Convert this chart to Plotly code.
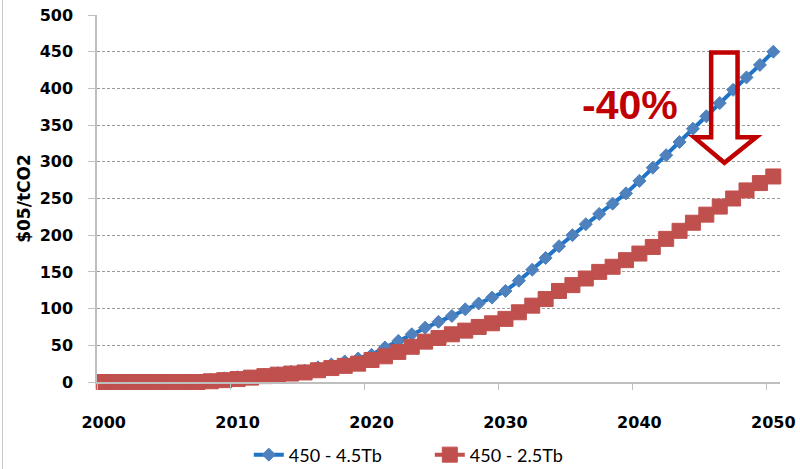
import plotly.graph_objects as go

# Carbon price paths, $05 per tonne CO2
years = list(range(2000, 2051))
price_450_45tb = [
    0, 0, 0, 0, 0.5, 1, 1, 1.5, 3, 5,
    6.5, 7.5, 10, 12, 14, 15.5, 20, 24, 28, 32,
    37, 47, 56, 65, 74, 82, 90, 99, 107, 115,
    124, 138, 153, 169, 185, 200, 215, 229, 243, 257,
    274, 292, 309, 327, 345, 362, 380, 398, 415, 432,
    450,
]
price_450_25tb = [
    0, 0, 0, 0, 0, 0, 0, 0, 1, 2.5,
    4, 6, 8, 10, 11.5, 13, 16, 19, 22, 25,
    30, 35, 41, 48, 55, 60, 65, 70, 75, 80,
    86, 95, 104, 113, 124, 132, 141, 150, 157, 166,
    175, 184, 195, 206, 217, 228, 239, 250, 261, 271,
    280,
]
series_names = ["450 - 4.5Tb", "450 - 2.5Tb"]
y_ticks = list(range(0, 501, 50))
x_ticks = list(range(2000, 2051, 10))

TICK_FONT = dict(family="DejaVu Sans", size=16, color="#000000", weight="bold")
AXIS_GREY = "#BFBFBF"

fig = go.Figure()
fig.add_trace(go.Scatter(
    x=years, y=price_450_45tb, name=series_names[0], mode="lines+markers",
    line=dict(color="#1F74C8", width=4),
    marker=dict(symbol="diamond", size=10, color="#4F81BD",
                line=dict(color="#4F81BD", width=1)),
    cliponaxis=False,
))
fig.add_trace(go.Scatter(
    x=years, y=price_450_25tb, name=series_names[1], mode="lines+markers",
    line=dict(color="#C0504D", width=4),
    marker=dict(symbol="square", size=15, color="#C0504D",
                line=dict(color="#C0504D", width=1)),
    cliponaxis=False,
))

# hollow down arrow marking the reduction
arrow = [
    (2045.36, 449.0), (2047.33, 449.0), (2047.33, 333.3), (2048.72, 333.3),
    (2046.35, 298.6), (2044.09, 333.3), (2045.36, 333.3),
]
path = "M " + " L ".join(f"{x},{y}" for x, y in arrow) + " Z"
fig.add_shape(type="path", path=path, xref="x", yref="y",
              line=dict(color="#C00000", width=4.5), fillcolor="rgba(0,0,0,0)")

fig.add_annotation(x=2039.3, y=377.5, xref="x", yref="y", text="-40%",
                   showarrow=False,
                   font=dict(family="Liberation Sans", size=41, color="#C00000",
                             weight="bold"))

# thin frame line on the left edge of the chart area
fig.add_shape(type="line", xref="paper", yref="paper",
              x0=-0.1384, x1=-0.1384, y0=-0.24, y1=1.05,
              line=dict(color="#C8C8C8", width=1))

fig.update_layout(
    width=800, height=469,
    margin=dict(l=97, r=20, t=15, b=87, autoexpand=False),
    paper_bgcolor="white", plot_bgcolor="white",
    showlegend=True,
    legend=dict(orientation="h", xref="container", yref="container",
                x=0.311, xanchor="left", y=0.03, yanchor="middle",
                font=dict(family="Lato", size=18, color="#000000"),
                entrywidth=136, entrywidthmode="pixels"),
    yaxis=dict(
        range=[0, 500], tickvals=y_ticks, tickfont=TICK_FONT,
        showline=True, linecolor=AXIS_GREY, linewidth=1.5,
        ticks="outside", ticklen=7, tickcolor=AXIS_GREY, tickwidth=1,
        ticklabelstandoff=12,
        showgrid=True, gridcolor="#9A9A9A", gridwidth=1, griddash="3px,2px",
        zeroline=False,
        title=dict(text="$05/tCO2", standoff=5,
                   font=dict(family="DejaVu Sans", size=17, color="#000000",
                             weight="bold")),
    ),
    xaxis=dict(
        range=[1999.5, 2050.5], tickvals=x_ticks, tickfont=TICK_FONT,
        showline=True, linecolor=AXIS_GREY, linewidth=1.5,
        ticks="", ticklabelstandoff=25,
        showgrid=False, zeroline=False,
        minor=dict(tick0=1999.5, dtick=10, ticks="outside", ticklen=6,
                   tickcolor=AXIS_GREY, tickwidth=1, showgrid=False),
    ),
)

fig.write_html("out.html")
